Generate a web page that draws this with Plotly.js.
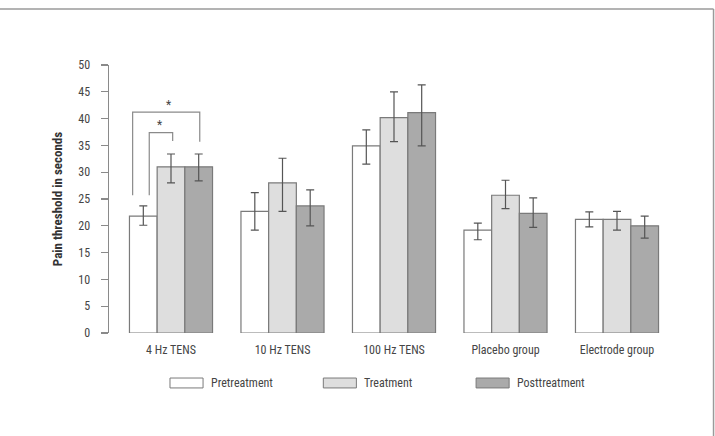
<!DOCTYPE html>
<html>
<head>
<meta charset="utf-8">
<script src="https://cdn.plot.ly/plotly-3.0.1.min.js"></script>
<style>html,body{margin:0;padding:0;background:#fff;}#chart{width:715px;height:436px;}</style>
</head>
<body>
<div id="chart"></div>
<script>
var categories = ["4 Hz TENS", "10 Hz TENS", "100 Hz TENS", "Placebo group", "Electrode group"];
var seriesNames = ["Pretreatment", "Treatment", "Posttreatment"];
var pretreatment = [21.8, 22.7, 34.9, 19.2, 21.2];
var pretreatmentErrPlus = [1.9, 3.5, 3.0, 1.3, 1.4];
var pretreatmentErrMinus = [1.7, 3.5, 3.4, 1.8, 1.4];
var treatment = [31.0, 28.0, 40.2, 25.7, 21.2];
var treatmentErrPlus = [2.4, 4.6, 4.8, 2.8, 1.5];
var treatmentErrMinus = [3.0, 5.3, 4.5, 2.5, 2.0];
var posttreatment = [31.0, 23.7, 41.1, 22.3, 20.0];
var posttreatmentErrPlus = [2.4, 3.0, 5.2, 2.9, 1.8];
var posttreatmentErrMinus = [2.6, 3.7, 6.2, 2.6, 2.3];
var yTicks = [0, 5, 10, 15, 20, 25, 30, 35, 40, 45, 50];
var sigLabel = "*";

var fills = ["#ffffff", "#dedede", "#aaaaaa"];
var values = [pretreatment, treatment, posttreatment];
var errP = [pretreatmentErrPlus, treatmentErrPlus, posttreatmentErrPlus];
var errM = [pretreatmentErrMinus, treatmentErrMinus, posttreatmentErrMinus];
var font = "'Liberation Sans Narrow', 'Arial Narrow', 'Roboto Condensed', 'Liberation Sans', sans-serif";
var textColor = "#454545";

var traces = seriesNames.map(function (name, i) {
  return {
    type: "bar",
    name: name,
    x: categories,
    y: values[i],
    marker: {color: fills[i], line: {color: "#7a7a7a", width: 1.2}},
    error_y: {type: "data", symmetric: false, array: errP[i], arrayminus: errM[i],
              color: "#555555", thickness: 1.2, width: 4},
    showlegend: false,
    hoverinfo: "skip"
  };
});

var shapes = [];
var annotations = [];
// frame
shapes.push({type: "line", xref: "paper", yref: "paper", x0: -0.3, x1: 1.0606, y0: 1.209, y1: 1.209, line: {color: "#9a9a9a", width: 1.5}});
shapes.push({type: "line", xref: "paper", yref: "paper", x0: 1.0606, x1: 1.0606, y0: 1.209, y1: -0.5, line: {color: "#9a9a9a", width: 1.5}});

// significance brackets (4 Hz TENS group)
var bracketStyle = {color: "#8a8a8a", width: 1.2};
shapes.push({type: "path", xref: "x", yref: "y",
  path: "M -0.344,25.7 L -0.344,41.2 L 0.258,41.2 L 0.258,35.7", line: bracketStyle});
shapes.push({type: "path", xref: "x", yref: "y",
  path: "M -0.195,25.7 L -0.195,37.4 L 0.015,37.4 L 0.015,35.8", line: bracketStyle});
annotations.push({xref: "x", yref: "y", x: -0.02, y: 42.6, text: sigLabel, showarrow: false,
  font: {family: font, size: 12, color: textColor}});
annotations.push({xref: "x", yref: "y", x: -0.10, y: 38.8, text: sigLabel, showarrow: false,
  font: {family: font, size: 12, color: textColor}});

// custom legend
var legX = [0.107, 0.376, 0.644];
seriesNames.forEach(function (name, i) {
  shapes.push({type: "rect", xref: "paper", yref: "paper",
    x0: legX[i], x1: legX[i] + 0.058, y0: -0.205, y1: -0.168,
    fillcolor: fills[i], line: {color: "#7a7a7a", width: 1}});
  annotations.push({xref: "paper", yref: "paper", x: legX[i] + 0.068, y: -0.1865,
    xanchor: "left", yanchor: "middle", text: name, showarrow: false,
    font: {family: font, size: 12, color: textColor}});
});

var layout = {
  width: 715, height: 436,
  margin: {l: 109, r: 36, t: 65, b: 103},
  paper_bgcolor: "#ffffff", plot_bgcolor: "#ffffff",
  barmode: "group", bargap: 0.255, bargroupgap: 0,
  font: {family: font, color: textColor},
  xaxis: {range: [-0.556, 4.556], showline: false, showgrid: false, zeroline: false,
          ticks: "", ticklabelstandoff: 8, tickfont: {family: font, size: 12, color: textColor}, fixedrange: true},
  yaxis: {range: [0, 50], tickvals: yTicks, ticktext: yTicks.map(String),
          showline: true, linecolor: "#8a8a8a", linewidth: 1.5,
          ticks: "outside", ticklen: 7, tickcolor: "#8a8a8a", tickwidth: 1.2,
          ticklabelstandoff: 8,
          showgrid: false, zeroline: false, automargin: false,
          tickfont: {family: font, size: 12, color: textColor},
          title: {text: "<b>Pain threshold in seconds</b>", standoff: 12,
                  font: {family: font, size: 13, color: "#333"}}},
  shapes: shapes,
  annotations: annotations
};
Plotly.newPlot("chart", traces, layout, {displayModeBar: false, staticPlot: true});
</script>
</body>
</html>
